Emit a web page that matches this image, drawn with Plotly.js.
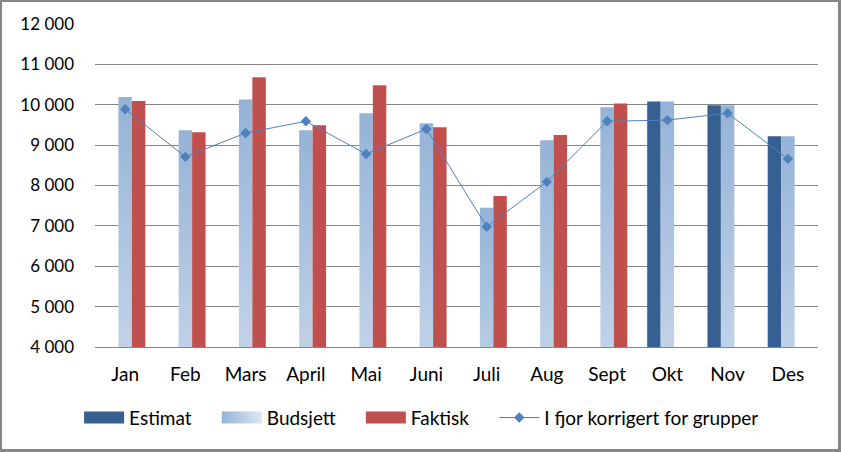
<!DOCTYPE html>
<html><head><meta charset="utf-8">
<script src="https://cdn.plot.ly/plotly-3.0.1.min.js"></script>
<style>
html,body{margin:0;padding:0;background:#fff;}
#wrap{width:841px;height:452px;box-sizing:border-box;border:2px solid #868686;border-right-width:3px;border-bottom-width:3px;background:#fff;}
#chart{width:836px;height:447px;}
</style></head>
<body><div id="wrap"><div id="chart"></div></div>
<script>
const months = ["Jan","Feb","Mars","April","Mai","Juni","Juli","Aug","Sept","Okt","Nov","Des"];
const estimat = [null,null,null,null,null,null,null,null,null,10080,9990,9220];
const budsjett = [10190,9370,10130,9370,9790,9540,7450,9120,9940,10080,9990,9220];
const faktisk = [10090,9320,10680,9490,10480,9440,7740,9250,10030,null,null,null];
const ifjor = [9890,8710,9300,9590,8780,9400,6980,8090,9590,9620,9790,8660];

const fam = "Lato, 'Open Sans', sans-serif";
const tickFont = {family:fam, size:17, color:"#000"};
const labFont = {family:fam, size:19, color:"#000"};
const traces = [
  {type:"bar", name:"Estimat", x:months, y:estimat, marker:{color:"#376092"}},
  {type:"bar", name:"Budsjett", x:months, y:budsjett, marker:{color:"#B9CDE8"}},
  {type:"bar", name:"Faktisk", x:months, y:faktisk, marker:{color:"#C0504D"}},
  {type:"scatter", mode:"lines+markers", name:"I fjor korrigert for grupper", x:months, y:ifjor,
   line:{color:"#4F81BD", width:1}, marker:{symbol:"diamond", size:8, color:"#4F81BD"}}
];
const layout = {
  width:836, height:447,
  margin:{l:93, r:20, t:22, b:100},
  paper_bgcolor:"#fff", plot_bgcolor:"#fff",
  font:tickFont,
  separators:", ",
  barmode:"group", bargap:0.33, bargroupgap:0,
  showlegend:true,
  legend:{orientation:"h", x:-0.022, xanchor:"left", y:-0.16, yanchor:"top", font:labFont, traceorder:"normal", itemwidth:40},
  xaxis:{type:"category", range:[-0.5,11.5], showgrid:false, showline:true, linecolor:"#868686", linewidth:1, ticks:"", ticklabelstandoff:10, tickfont:labFont},
  yaxis:{range:[4000,12000], dtick:1000, tickformat:",d", showgrid:true, gridcolor:"#868686", gridwidth:1,
         showline:false, zeroline:false, ticks:"", ticklabelstandoff:20, tickfont:tickFont}
};
const legendExtraGap = 20;
function traceIndex(el){
  const d = el.__data__;
  return d && d[0] && d[0].trace ? d[0].trace.index : null;
}
function applyStyle(gd){
  const svg = gd.querySelector("svg.main-svg");
  const defs = svg.querySelector("defs");
  if(!svg.querySelector("#budGrad")){
    const ns="http://www.w3.org/2000/svg";
    const mk=(id,x2,y2)=>{
      const g=document.createElementNS(ns,"linearGradient");
      g.setAttribute("id",id); g.setAttribute("x1","0"); g.setAttribute("y1","0"); g.setAttribute("x2",x2); g.setAttribute("y2",y2);
      [["0","#95B3D7"],["1","#DDE7F3"]].forEach(([o,c])=>{const s=document.createElementNS(ns,"stop");s.setAttribute("offset",o);s.setAttribute("stop-color",c);g.appendChild(s);});
      defs.appendChild(g);
    };
    mk("budGrad","0","1"); mk("budGradH","1","0");
  }
  gd.querySelectorAll(".barlayer .trace.bars").forEach(tg=>{
    if(traceIndex(tg)===1){ tg.querySelectorAll("path").forEach(p=>{p.style.fill="url(#budGrad)";}); }
  });
  const items = gd.querySelectorAll(".legend .traces");
  items.forEach((lt,i)=>{
    const idx = traceIndex(lt);
    if(idx===0||idx===1||idx===2){
      lt.querySelectorAll(".legendpoints path").forEach(p=>{
        p.setAttribute("d","M20,6H-20V-6H20Z");
        p.style.strokeWidth="0";
        if(idx===1) p.style.fill="url(#budGradH)";
      });
    }
    const tr = lt.getAttribute("transform")||"";
    const m = tr.match(/translate\(\s*([-\d.]+)[ ,]+([-\d.]+)\s*\)/);
    if(m){ lt.setAttribute("transform","translate("+(parseFloat(m[1])+i*legendExtraGap)+","+m[2]+")"); }
  });
  gd.querySelectorAll(".legend .scrollbox").forEach(sb=>sb.removeAttribute("clip-path"));
}
const gd = document.getElementById("chart");
Plotly.newPlot(gd, traces, layout, {staticPlot:true, displayModeBar:false}).then(()=>{
  applyStyle(gd);
});
</script></body></html>
